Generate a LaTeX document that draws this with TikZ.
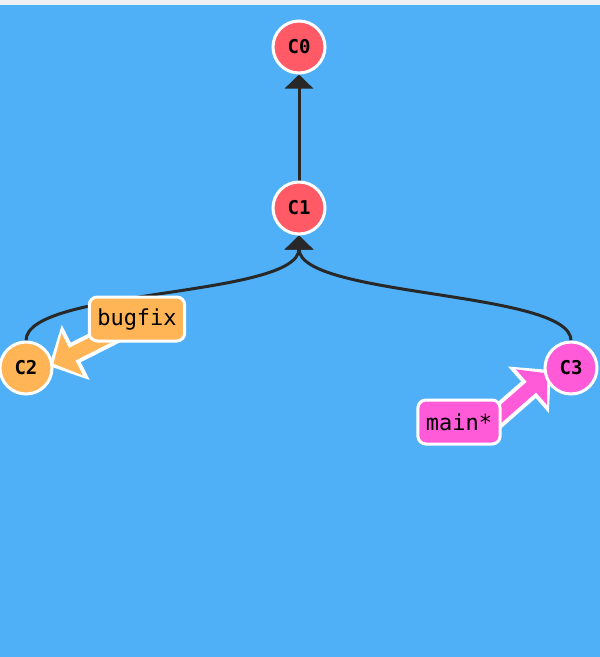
\documentclass[tikz,border=0pt]{standalone}
\usepackage{fontspec}
\setmonofont{DejaVu Sans Mono}
\usetikzlibrary{arrows.meta,calc}
\pgfdeclarelayer{back}
\pgfdeclarelayer{mid}
\pgfsetlayers{back,mid,main}
\definecolor{bgblue}{RGB}{79,176,248}
\definecolor{topgray}{RGB}{238,240,242}
\definecolor{cred}{RGB}{255,90,102}
\definecolor{corange}{RGB}{255,180,86}
\definecolor{cpink}{RGB}{255,90,216}
\definecolor{edgedark}{RGB}{40,40,40}
\begin{document}
\begin{tikzpicture}[x=1pt,y=-1pt,
  commit/.style={circle,draw=white,line width=3pt,minimum size=52pt,inner sep=0pt,
    font=\ttfamily\bfseries\fontsize{19}{19}\selectfont},
  branchlabel/.style={rectangle,rounded corners=8pt,draw=white,line width=3pt,
    minimum height=44pt,inner xsep=8pt,font=\ttfamily\fontsize{22}{22}\selectfont},
  parent/.style={edgedark,line width=3pt,-{Triangle[length=14pt,width=28pt]}},
  refout/.style={white,line width=22pt,-{Triangle[length=30pt,width=60pt]}},
  refin/.style={line width=14pt,shorten >=5pt,-{Triangle[length=21pt,width=46pt]}}]
\begin{pgfonlayer}{back}
\fill[bgblue] (0,0) rectangle (600,657);
\fill[topgray] (0,0) rectangle (600,5);
\end{pgfonlayer}
\useasboundingbox (0,0) rectangle (600,657);

\node[commit,fill=cred] (C0) at (299,47) {C0};
\node[commit,fill=cred] (C1) at (299,208) {C1};
\node[commit,fill=corange] (C2) at (26,368) {C2};
\node[commit,fill=cpink] (C3) at (571,368) {C3};

\node[branchlabel,fill=corange] (bugfix) at (137,319) {bugfix};
\node[branchlabel,fill=cpink] (main) at (459,422) {main*};

\coordinate (bs) at (120,330);
\coordinate (bt) at (49,366);
\coordinate (ms) at (478,434);
\coordinate (mt) at (551,370);

\begin{pgfonlayer}{mid}
\draw[parent] (C1) -- (C0);
\draw[parent] (C2.north) .. controls ($(C2.north)+(0,-52)$) and ($(C1.south)+(0,62)$) .. (C1.south);
\draw[parent] (C3.north) .. controls ($(C3.north)+(0,-50)$) and ($(C1.south)+(0,62)$) .. (C1.south);
\draw[refout] (bs) -- (bt);
\draw[refin,corange] (bs) -- (bt);
\draw[refout] (ms) -- (mt);
\draw[refin,cpink] (ms) -- (mt);
\end{pgfonlayer}
\end{tikzpicture}
\end{document}
